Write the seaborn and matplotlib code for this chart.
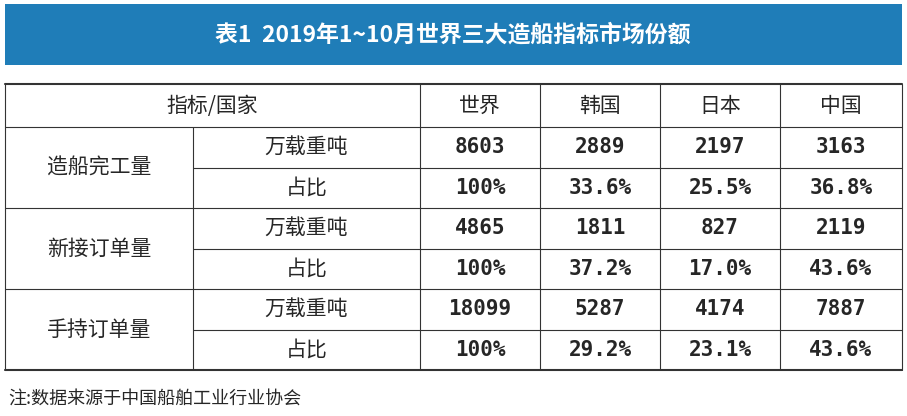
import matplotlib.pyplot as plt
import seaborn as sns

TITLE = "表1  2019年1~10月世界三大造船指标市场份额"
COUNTRIES = ["世界", "韩国", "日本", "中国"]
INDICATORS = ["造船完工量", "新接订单量", "手持订单量"]
SUB_LABELS = ["万载重吨", "占比"]
TONNAGE = [[8603, 2889, 2197, 3163],
           [4865, 1811, 827, 2119],
           [18099, 5287, 4174, 7887]]
SHARE = [["100%", "33.6%", "25.5%", "36.8%"],
         ["100%", "37.2%", "17.0%", "43.6%"],
         ["100%", "29.2%", "23.1%", "43.6%"]]
NOTE = "注:数据来源于中国船舶工业行业协会"

sns.set_theme(style="white")
plt.rcParams["font.family"] = ["Noto Sans CJK SC", "DejaVu Sans"]

W, H = 907, 416
fig = plt.figure(figsize=(W / 100, H / 100), dpi=100)
ax = fig.add_axes([0, 0, 1, 1])
ax.set_xlim(0, W)
ax.set_ylim(H, 0)
ax.axis("off")

# title bar
ax.add_patch(plt.Rectangle((5, 4), 897, 61, color="#1f7db8", lw=0))
ax.text(453, 35, TITLE, color="white", fontsize=16.5, fontweight="bold",
        ha="center", va="center")

# grid geometry
top, head_bot, row_h = 84, 127, 40.5
bottom = head_bot + 6 * row_h
col_x = [5, 193, 420, 540, 660, 780, 902]
lc = "#333333"

ax.plot([col_x[0], col_x[-1]], [top, top], color=lc, lw=1.5)
ax.plot([col_x[0], col_x[-1]], [bottom, bottom], color=lc, lw=1.5)
ax.plot([col_x[0], col_x[-1]], [head_bot, head_bot], color=lc, lw=0.8)
for i in range(1, 6):
    y = head_bot + i * row_h
    x0 = col_x[0] if i % 2 == 0 else col_x[1]
    ax.plot([x0, col_x[-1]], [y, y], color=lc, lw=0.8)
for j, x in enumerate(col_x):
    y0 = head_bot if j == 1 else top
    ax.plot([x, x], [y0, bottom], color=lc, lw=0.8)

fs = 15
mono = ["DejaVu Sans Mono", "DejaVu Sans"]
ax.text((col_x[0] + col_x[2]) / 2, (top + head_bot) / 2, "指标/国家",
        fontsize=fs, ha="center", va="center")
for j, c in enumerate(COUNTRIES):
    ax.text((col_x[j + 2] + col_x[j + 3]) / 2, (top + head_bot) / 2, c,
            fontsize=fs, ha="center", va="center")

for i, ind in enumerate(INDICATORS):
    y_a = head_bot + (2 * i + 0.5) * row_h
    y_b = head_bot + (2 * i + 1.5) * row_h
    ax.text((col_x[0] + col_x[1]) / 2, head_bot + (2 * i + 1) * row_h, ind,
            fontsize=fs, ha="center", va="center")
    ax.text((col_x[1] + col_x[2]) / 2, y_a, SUB_LABELS[0], fontsize=fs,
            ha="center", va="center")
    ax.text((col_x[1] + col_x[2]) / 2, y_b, SUB_LABELS[1], fontsize=fs,
            ha="center", va="center")
    for j in range(4):
        cx = (col_x[j + 2] + col_x[j + 3]) / 2
        ax.text(cx, y_a, str(TONNAGE[i][j]), fontsize=15, fontweight="bold",
                ha="center", va="center", family=mono)
        ax.text(cx, y_b, SHARE[i][j], fontsize=15, fontweight="bold",
                ha="center", va="center", family=mono)

ax.text(8, 399, NOTE, fontsize=13, ha="left", va="center")

fig.savefig("out.png", dpi=100)
